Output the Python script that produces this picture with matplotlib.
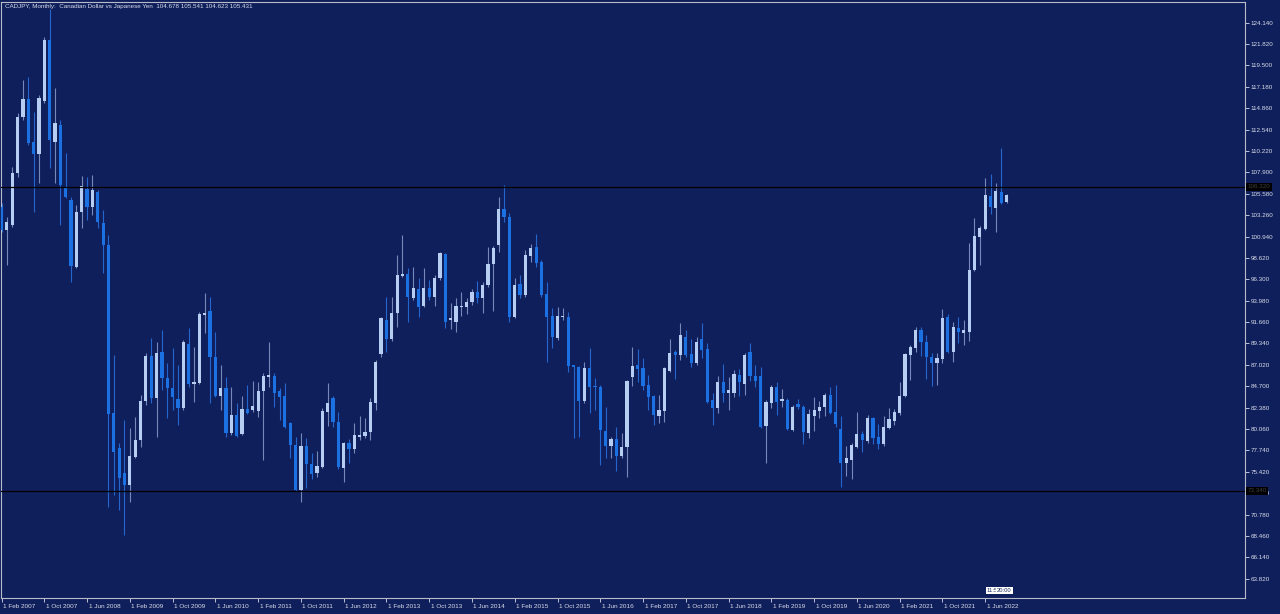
import numpy as np
import matplotlib
matplotlib.use("Agg")
import matplotlib.pyplot as plt
import matplotlib.transforms as mtransforms

plt.rcParams['font.family'] = ['Liberation Sans', 'DejaVu Sans']

# CADJPY monthly candles, Feb 2007 .. Oct 2022
opens = [104.18, 101.65, 102.19, 107.80, 113.87, 115.82, 111.23, 109.89, 115.68, 122.26,
         111.23, 113.04, 106.35, 104.90, 97.67, 103.64, 106.06, 104.18, 105.81, 102.37,
         100.02, 81.76, 77.96, 75.32, 73.99, 77.06, 78.87, 83.13, 87.98, 83.39,
         88.45, 85.56, 84.47, 83.28, 82.30, 89.25, 84.91, 85.02, 92.43, 92.90,
         87.84, 83.64, 84.55, 79.59, 81.58, 79.52, 82.19, 82.12, 82.05, 84.22,
         85.66, 85.81, 84.22, 83.64, 80.75, 78.32, 73.44, 78.21, 76.26, 75.32,
         75.97, 81.87, 83.39, 80.85, 75.79, 78.57, 77.85, 79.15, 79.30, 79.77,
         82.84, 88.19, 91.88, 89.79, 92.61, 96.66, 96.87, 94.23, 95.21, 93.40,
         95.32, 94.34, 96.40, 99.04, 91.88, 91.70, 93.26, 93.33, 93.87, 94.96,
         94.23, 95.68, 97.96, 100.02, 103.89, 103.09, 92.17, 95.79, 94.59, 98.83,
         99.77, 98.21, 94.70, 92.32, 89.89, 92.17, 92.24, 87.00, 86.75, 83.13,
         86.64, 84.65, 84.65, 79.88, 78.21, 78.94, 77.13, 78.07, 85.74, 87.00,
         86.64, 84.83, 83.64, 81.47, 82.05, 86.39, 88.45, 88.09, 90.07, 88.19,
         87.18, 89.79, 88.70, 83.20, 82.30, 85.19, 83.93, 84.00, 85.92, 84.94,
         88.45, 85.81, 85.81, 80.38, 82.84, 84.65, 83.10, 83.20, 79.95, 82.77,
         82.41, 79.59, 81.47, 82.05, 82.48, 83.75, 81.94, 80.02, 76.33, 76.70,
         78.07, 79.52, 78.79, 81.22, 79.15, 78.43, 80.13, 80.96, 81.83, 83.64,
         88.09, 88.81, 90.80, 89.53, 87.83, 87.18, 87.62, 92.17, 88.45, 90.98,
         90.51, 90.62, 97.31, 100.92, 101.72, 105.34, 104.00, 105.81, 104.678]
highs = [104.54, 103.10, 108.52, 114.30, 117.92, 118.28, 114.49, 116.29, 122.62, 125.60,
         117.02, 113.58, 109.97, 105.27, 104.36, 107.51, 107.44, 107.62, 106.00, 103.82,
         101.11, 88.09, 78.50, 81.04, 80.13, 81.40, 83.75, 88.27, 89.90, 89.54,
         90.80, 87.19, 88.81, 87.00, 89.72, 90.98, 88.99, 92.79, 94.85, 94.35,
         90.62, 87.00, 85.74, 84.65, 82.92, 83.64, 84.83, 85.30, 85.19, 86.10,
         89.53, 86.10, 84.47, 85.01, 80.85, 79.23, 79.66, 79.05, 77.42, 77.71,
         82.30, 85.09, 83.64, 81.94, 78.68, 78.94, 80.75, 81.47, 81.22, 83.39,
         87.50, 92.17, 94.41, 94.41, 98.93, 101.10, 97.49, 97.67, 96.40, 97.49,
         96.22, 96.76, 99.30, 99.19, 93.69, 94.23, 94.96, 94.23, 95.21, 96.15,
         96.04, 99.84, 99.91, 105.26, 106.53, 103.45, 96.40, 96.76, 99.48, 100.13,
         101.21, 98.39, 96.04, 93.15, 93.26, 93.15, 92.79, 87.00, 86.89, 87.36,
         88.81, 85.55, 84.83, 82.48, 79.23, 80.31, 79.66, 85.37, 88.99, 88.70,
         87.72, 85.92, 83.75, 83.75, 86.82, 89.79, 88.63, 91.59, 90.80, 89.79,
         90.07, 91.59, 89.42, 83.93, 85.81, 87.11, 85.66, 86.46, 86.53, 88.27,
         89.35, 87.00, 86.82, 83.20, 84.83, 85.19, 84.36, 83.39, 82.66, 83.28,
         82.66, 82.19, 83.57, 83.13, 83.93, 84.58, 84.83, 81.47, 78.21, 78.57,
         81.94, 79.88, 81.58, 81.40, 80.60, 81.47, 82.30, 82.19, 85.19, 88.27,
         89.17, 91.09, 91.16, 90.26, 88.27, 88.27, 93.04, 92.53, 91.70, 92.17,
         91.88, 100.27, 102.91, 102.08, 107.25, 107.72, 106.78, 110.51, 105.541]
lows = [101.47, 97.85, 102.01, 107.44, 113.58, 110.87, 103.64, 106.78, 115.39, 108.34,
        106.71, 102.19, 105.08, 96.04, 97.49, 101.83, 102.73, 103.28, 101.83, 96.95,
        71.64, 72.90, 71.28, 68.60, 72.18, 76.88, 78.15, 82.66, 82.85, 79.23,
        84.29, 81.22, 82.12, 80.50, 82.12, 84.65, 83.03, 84.94, 90.51, 82.85,
        83.57, 82.12, 79.23, 79.41, 79.23, 79.41, 81.69, 81.94, 81.32, 76.70,
        84.65, 82.48, 81.03, 80.13, 76.88, 73.30, 72.17, 73.62, 74.60, 74.89,
        75.79, 80.39, 80.24, 75.68, 74.35, 76.33, 77.49, 78.86, 79.05, 78.86,
        82.12, 87.91, 88.45, 89.64, 91.16, 96.58, 91.70, 94.05, 92.25, 93.26,
        94.05, 93.40, 96.22, 90.98, 90.87, 90.62, 92.32, 92.53, 93.51, 93.76,
        92.68, 95.50, 92.90, 99.30, 102.55, 91.70, 92.06, 94.23, 94.34, 98.21,
        97.60, 94.41, 87.36, 88.81, 89.71, 91.88, 86.28, 79.05, 79.23, 82.84,
        81.76, 82.12, 76.15, 76.88, 76.88, 75.54, 76.88, 74.89, 84.72, 85.19,
        84.29, 82.12, 80.49, 80.67, 80.85, 86.28, 85.45, 87.54, 87.91, 86.75,
        87.00, 87.72, 82.91, 80.49, 81.76, 83.02, 82.12, 83.57, 83.64, 83.75,
        85.30, 84.65, 80.13, 76.41, 82.30, 81.58, 82.48, 79.95, 79.88, 82.19,
        78.43, 79.05, 79.88, 81.22, 81.47, 81.69, 80.24, 73.80, 74.96, 74.60,
        77.96, 77.60, 78.58, 78.43, 77.85, 78.21, 80.02, 80.49, 81.58, 83.57,
        85.37, 88.45, 87.98, 85.45, 84.72, 84.83, 87.18, 88.27, 87.36, 89.42,
        89.17, 89.64, 97.23, 97.85, 101.65, 103.38, 101.47, 104.47, 104.623]
closes = [101.65, 102.55, 107.80, 113.94, 115.82, 111.12, 109.89, 115.93, 122.26, 111.41,
          113.22, 106.53, 105.19, 97.74, 103.64, 106.42, 104.18, 105.99, 102.55, 100.02,
          81.69, 77.60, 74.71, 73.99, 77.13, 78.87, 83.13, 87.98, 83.39, 88.34,
          85.56, 84.47, 83.57, 82.30, 89.54, 84.91, 85.20, 92.54, 92.68, 87.91,
          83.64, 84.55, 79.59, 81.58, 79.30, 82.19, 81.76, 82.59, 84.22, 85.81,
          85.88, 84.00, 83.49, 80.24, 78.32, 73.44, 78.21, 76.26, 75.18, 76.04,
          82.05, 82.91, 80.85, 75.90, 78.50, 77.85, 79.41, 79.41, 79.77, 83.02,
          87.36, 92.06, 89.79, 92.61, 96.76, 96.87, 94.34, 95.32, 93.26, 95.32,
          94.34, 96.40, 99.11, 91.70, 92.06, 93.40, 93.40, 93.87, 94.96, 94.23,
          95.68, 97.96, 99.66, 103.89, 103.09, 92.24, 95.68, 94.59, 98.93, 99.66,
          98.03, 94.59, 92.24, 90.07, 92.32, 92.32, 86.89, 86.75, 83.13, 86.64,
          84.65, 84.58, 79.95, 78.21, 78.94, 77.13, 78.14, 85.27, 86.89, 86.53,
          84.72, 83.57, 81.58, 82.12, 86.64, 88.34, 88.09, 90.26, 88.09, 87.18,
          89.53, 88.63, 83.02, 82.30, 85.19, 83.93, 84.29, 86.03, 85.19, 88.09,
          85.81, 85.30, 80.24, 83.02, 84.65, 83.02, 83.28, 80.02, 82.48, 82.41,
          79.77, 81.69, 82.12, 82.48, 83.75, 81.83, 80.60, 76.41, 76.88, 78.32,
          79.52, 78.87, 81.22, 79.05, 78.43, 80.24, 81.11, 81.94, 83.64, 88.20,
          88.99, 90.80, 89.53, 87.91, 87.18, 87.72, 92.06, 88.45, 91.16, 90.62,
          90.80, 97.31, 100.99, 101.83, 105.44, 104.11, 105.91, 104.61, 105.431]

date_labels = ["1 Feb 2007", "1 Oct 2007", "1 Jun 2008", "1 Feb 2009", "1 Oct 2009",
               "1 Jun 2010", "1 Feb 2011", "1 Oct 2011", "1 Jun 2012", "1 Feb 2013",
               "1 Oct 2013", "1 Jun 2014", "1 Feb 2015", "1 Oct 2015", "1 Jun 2016",
               "1 Feb 2017", "1 Oct 2017", "1 Jun 2018", "1 Feb 2019", "1 Oct 2019",
               "1 Jun 2020", "1 Feb 2021", "1 Oct 2021", "1 Jun 2022"]
price_ticks = [124.140, 121.820, 119.500, 117.180, 114.860, 112.540, 110.220, 107.900,
               105.580, 103.260, 100.940, 98.620, 96.300, 93.980, 91.660, 89.340, 87.020,
               84.700, 82.380, 80.060, 77.740, 75.420, 73.100, 70.780, 68.460, 66.140, 63.820]
levels = [106.32, 73.34]
title = "CADJPY, Monthly:  Canadian Dollar vs Japanese Yen  104.678 105.541 104.623 105.431"

bg = "#0f1f5c"
bull = "#b6cef2"
bear = "#1b70e2"
bull_wick = "#7689b8"
bear_wick = "#2466cc"
fg = "#d8dce8"

n = min(len(opens), len(highs), len(lows), len(closes))
o = np.array(opens[:n]); h = np.array(highs[:n]); l = np.array(lows[:n]); c = np.array(closes[:n])
x = np.arange(n)
up = c >= o

fig = plt.figure(figsize=(12.8, 6.14), dpi=100, facecolor=bg)
ax = fig.add_axes([1/1280, 16/614, 1244/1280, 596/614], facecolor=bg)

ax.vlines(x[up], l[up], h[up], color=bull_wick, lw=0.8, zorder=2)
ax.vlines(x[~up], l[~up], h[~up], color=bear_wick, lw=0.8, zorder=2)
body_lo = np.minimum(o, c)
body_h = np.maximum(np.abs(c - o), 0.12)
ax.bar(x[up], body_h[up], bottom=body_lo[up], width=0.6, color=bull, lw=0, zorder=3)
ax.bar(x[~up], body_h[~up], bottom=body_lo[~up], width=0.6, color=bear, lw=0, zorder=3)

for lv in levels:
    ax.axhline(lv, color="black", lw=0.9, zorder=4)

ax.set_xlim(-0.1, 232.6)
ax.set_ylim(61.73, 126.38)

for s in ax.spines.values():
    s.set_color("#b8bcc8")
    s.set_linewidth(0.8)

ax.yaxis.tick_right()
ax.set_yticks(price_ticks)
ax.set_yticklabels(["%.3f" % v for v in price_ticks])
ax.tick_params(axis="y", colors=fg, labelsize=4.5, length=3, width=0.6, pad=1)
ax.set_xticks(np.arange(0, 8 * len(date_labels), 8))
ax.set_xticklabels(date_labels, ha="left")
ax.tick_params(axis="x", colors=fg, labelsize=4.6, length=3, width=0.6, pad=1)
off = mtransforms.ScaledTranslation(1.5 / 100, 0, fig.dpi_scale_trans)
for lab in ax.get_xticklabels():
    lab.set_transform(lab.get_transform() + off)

ax.text(0.003, 0.997, title, transform=ax.transAxes, ha="left", va="top",
        color=fg, fontsize=4.5)

tr = mtransforms.blended_transform_factory(ax.transAxes, ax.transData)
for lv in levels:
    ax.text(1.002, lv, "%.3f" % lv, transform=tr, ha="left", va="center", fontsize=4.5,
            color="#404040", clip_on=False, zorder=6,
            bbox=dict(boxstyle="square,pad=0.25", fc="black", ec="none"))

for xi, txt in [(185.3, "11:5"), (187.6, "20:00")]:
    ax.text(xi, 62.3, txt, ha="center", va="bottom", fontsize=4.2,
            color="#203060", zorder=6,
            bbox=dict(boxstyle="square,pad=0.15", fc="white", ec="none"))

fig.savefig("out.png", dpi=100, facecolor=bg)
